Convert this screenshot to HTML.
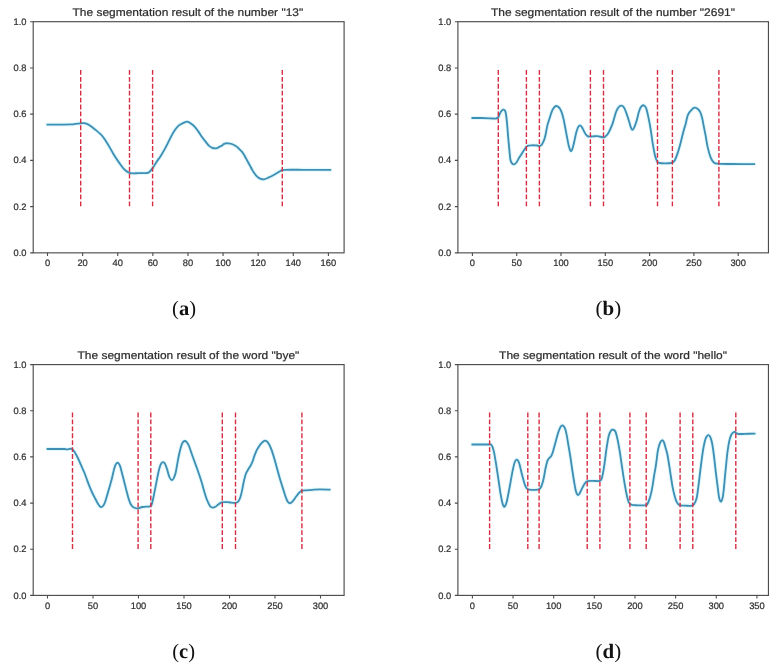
<!DOCTYPE html><html><head><meta charset="utf-8"><style>html,body{margin:0;padding:0;background:#fff;}svg{display:block;filter:blur(0.35px);}.t{font-family:"Liberation Sans",sans-serif;text-rendering:geometricPrecision;fill:#2e2e2e;stroke:#2e2e2e;stroke-width:0.22px;}.s{font-family:"Liberation Serif",serif;text-rendering:geometricPrecision;fill:#111;}</style></head><body><svg width="776" height="668" viewBox="0 0 776 668"><rect width="776" height="668" fill="#fff"/><path d="M47.50,124.60 C49.47,124.60 55.40,124.63 59.30,124.60 C63.20,124.57 68.57,124.45 70.90,124.40 C73.23,124.35 72.27,124.43 73.30,124.30 C74.33,124.17 75.95,123.77 77.10,123.60 C78.25,123.43 79.03,123.37 80.20,123.30 C81.37,123.23 82.80,123.03 84.10,123.20 C85.40,123.37 86.58,123.58 88.00,124.30 C89.42,125.02 91.18,126.45 92.60,127.50 C94.02,128.55 95.27,129.57 96.50,130.60 C97.73,131.63 99.00,132.75 100.00,133.70 C101.00,134.65 101.27,134.68 102.50,136.30 C103.73,137.92 105.58,140.47 107.40,143.40 C109.22,146.33 111.42,150.65 113.40,153.90 C115.38,157.15 117.57,160.40 119.30,162.90 C121.03,165.40 122.30,167.33 123.80,168.90 C125.30,170.47 126.80,171.55 128.30,172.30 C129.80,173.05 131.05,173.27 132.80,173.40 C134.55,173.53 136.60,173.16 138.80,173.10 C141.00,173.04 144.30,173.20 146.00,173.05 C147.70,172.90 147.88,173.02 149.00,172.20 C150.12,171.38 151.45,169.78 152.70,168.10 C153.95,166.42 155.12,164.22 156.50,162.10 C157.88,159.98 159.52,157.77 161.00,155.40 C162.48,153.03 163.92,150.65 165.40,147.90 C166.88,145.15 168.40,141.77 169.90,138.90 C171.40,136.03 172.90,132.95 174.40,130.70 C175.90,128.45 177.30,126.75 178.90,125.40 C180.50,124.05 182.60,123.22 184.00,122.60 C185.40,121.98 186.10,121.50 187.30,121.70 C188.50,121.90 189.95,122.95 191.20,123.80 C192.45,124.65 193.60,125.50 194.80,126.80 C196.00,128.10 197.20,129.90 198.40,131.60 C199.60,133.30 200.80,135.32 202.00,137.00 C203.20,138.68 204.42,140.22 205.60,141.70 C206.78,143.18 207.92,144.85 209.10,145.90 C210.28,146.95 211.50,147.60 212.70,148.00 C213.90,148.40 215.35,148.40 216.30,148.30 C217.25,148.20 217.78,147.70 218.40,147.40 C219.02,147.10 219.42,146.80 220.00,146.50 C220.58,146.20 221.27,146.00 221.90,145.60 C222.53,145.20 223.17,144.47 223.80,144.10 C224.43,143.73 224.98,143.53 225.70,143.40 C226.42,143.27 227.30,143.25 228.10,143.30 C228.90,143.35 229.70,143.50 230.50,143.70 C231.30,143.90 232.10,144.15 232.90,144.50 C233.70,144.85 234.50,145.30 235.30,145.80 C236.10,146.30 236.90,146.82 237.70,147.50 C238.50,148.18 239.37,149.17 240.10,149.90 C240.83,150.63 241.45,151.08 242.10,151.90 C242.75,152.72 243.35,153.72 244.00,154.80 C244.65,155.88 245.32,157.17 246.00,158.40 C246.68,159.63 247.42,160.95 248.10,162.20 C248.78,163.45 249.43,164.67 250.10,165.90 C250.77,167.13 251.42,168.43 252.10,169.60 C252.78,170.77 253.52,171.88 254.20,172.90 C254.88,173.92 255.53,174.92 256.20,175.70 C256.87,176.48 257.53,177.10 258.20,177.60 C258.87,178.10 259.30,178.40 260.20,178.70 C261.10,179.00 262.25,179.57 263.60,179.40 C264.95,179.23 266.62,178.43 268.30,177.70 C269.98,176.97 271.90,176.00 273.70,175.00 C275.50,174.00 277.75,172.48 279.10,171.70 C280.45,170.92 280.75,170.62 281.80,170.30 C282.85,169.98 281.80,169.88 285.40,169.80 C289.00,169.72 295.92,169.78 303.40,169.80 C310.88,169.82 325.82,169.88 330.30,169.90" fill="none" stroke="#d4f5fb" stroke-width="4" stroke-linejoin="round" stroke-linecap="round" opacity="0.7"/><path d="M47.50,124.60 C49.47,124.60 55.40,124.63 59.30,124.60 C63.20,124.57 68.57,124.45 70.90,124.40 C73.23,124.35 72.27,124.43 73.30,124.30 C74.33,124.17 75.95,123.77 77.10,123.60 C78.25,123.43 79.03,123.37 80.20,123.30 C81.37,123.23 82.80,123.03 84.10,123.20 C85.40,123.37 86.58,123.58 88.00,124.30 C89.42,125.02 91.18,126.45 92.60,127.50 C94.02,128.55 95.27,129.57 96.50,130.60 C97.73,131.63 99.00,132.75 100.00,133.70 C101.00,134.65 101.27,134.68 102.50,136.30 C103.73,137.92 105.58,140.47 107.40,143.40 C109.22,146.33 111.42,150.65 113.40,153.90 C115.38,157.15 117.57,160.40 119.30,162.90 C121.03,165.40 122.30,167.33 123.80,168.90 C125.30,170.47 126.80,171.55 128.30,172.30 C129.80,173.05 131.05,173.27 132.80,173.40 C134.55,173.53 136.60,173.16 138.80,173.10 C141.00,173.04 144.30,173.20 146.00,173.05 C147.70,172.90 147.88,173.02 149.00,172.20 C150.12,171.38 151.45,169.78 152.70,168.10 C153.95,166.42 155.12,164.22 156.50,162.10 C157.88,159.98 159.52,157.77 161.00,155.40 C162.48,153.03 163.92,150.65 165.40,147.90 C166.88,145.15 168.40,141.77 169.90,138.90 C171.40,136.03 172.90,132.95 174.40,130.70 C175.90,128.45 177.30,126.75 178.90,125.40 C180.50,124.05 182.60,123.22 184.00,122.60 C185.40,121.98 186.10,121.50 187.30,121.70 C188.50,121.90 189.95,122.95 191.20,123.80 C192.45,124.65 193.60,125.50 194.80,126.80 C196.00,128.10 197.20,129.90 198.40,131.60 C199.60,133.30 200.80,135.32 202.00,137.00 C203.20,138.68 204.42,140.22 205.60,141.70 C206.78,143.18 207.92,144.85 209.10,145.90 C210.28,146.95 211.50,147.60 212.70,148.00 C213.90,148.40 215.35,148.40 216.30,148.30 C217.25,148.20 217.78,147.70 218.40,147.40 C219.02,147.10 219.42,146.80 220.00,146.50 C220.58,146.20 221.27,146.00 221.90,145.60 C222.53,145.20 223.17,144.47 223.80,144.10 C224.43,143.73 224.98,143.53 225.70,143.40 C226.42,143.27 227.30,143.25 228.10,143.30 C228.90,143.35 229.70,143.50 230.50,143.70 C231.30,143.90 232.10,144.15 232.90,144.50 C233.70,144.85 234.50,145.30 235.30,145.80 C236.10,146.30 236.90,146.82 237.70,147.50 C238.50,148.18 239.37,149.17 240.10,149.90 C240.83,150.63 241.45,151.08 242.10,151.90 C242.75,152.72 243.35,153.72 244.00,154.80 C244.65,155.88 245.32,157.17 246.00,158.40 C246.68,159.63 247.42,160.95 248.10,162.20 C248.78,163.45 249.43,164.67 250.10,165.90 C250.77,167.13 251.42,168.43 252.10,169.60 C252.78,170.77 253.52,171.88 254.20,172.90 C254.88,173.92 255.53,174.92 256.20,175.70 C256.87,176.48 257.53,177.10 258.20,177.60 C258.87,178.10 259.30,178.40 260.20,178.70 C261.10,179.00 262.25,179.57 263.60,179.40 C264.95,179.23 266.62,178.43 268.30,177.70 C269.98,176.97 271.90,176.00 273.70,175.00 C275.50,174.00 277.75,172.48 279.10,171.70 C280.45,170.92 280.75,170.62 281.80,170.30 C282.85,169.98 281.80,169.88 285.40,169.80 C289.00,169.72 295.92,169.78 303.40,169.80 C310.88,169.82 325.82,169.88 330.30,169.90" fill="none" stroke="#3f8fb4" stroke-width="1.85" stroke-linejoin="round" stroke-linecap="square"/><g stroke="#d62d42" stroke-width="1.4" stroke-dasharray="4.83 2.09" fill="none"><line x1="80.7" y1="206.27" x2="80.7" y2="68.03"/><line x1="129.5" y1="206.27" x2="129.5" y2="68.03"/><line x1="152.6" y1="206.27" x2="152.6" y2="68.03"/><line x1="282.3" y1="206.27" x2="282.3" y2="68.03"/></g><rect x="33.2" y="21.7" width="310.9" height="231.15" fill="none" stroke="#4c4c4c" stroke-width="1.15"/><path d="M30.15,252.85H33.2M30.15,206.62H33.2M30.15,160.39H33.2M30.15,114.16H33.2M30.15,67.93H33.2M30.15,21.7H33.2M47.5,252.85V255.9M82.61,252.85V255.9M117.72,252.85V255.9M152.84,252.85V255.9M187.95,252.85V255.9M223.06,252.85V255.9M258.17,252.85V255.9M293.28,252.85V255.9M328.4,252.85V255.9" stroke="#4c4c4c" stroke-width="1.1" fill="none"/><g class="t" font-size="9.4"><text x="26.5" y="255.95" text-anchor="end" textLength="12.96" lengthAdjust="spacingAndGlyphs">0.0</text><text x="26.5" y="209.72" text-anchor="end" textLength="12.96" lengthAdjust="spacingAndGlyphs">0.2</text><text x="26.5" y="163.49" text-anchor="end" textLength="12.96" lengthAdjust="spacingAndGlyphs">0.4</text><text x="26.5" y="117.26" text-anchor="end" textLength="12.96" lengthAdjust="spacingAndGlyphs">0.6</text><text x="26.5" y="71.03" text-anchor="end" textLength="12.96" lengthAdjust="spacingAndGlyphs">0.8</text><text x="26.5" y="24.8" text-anchor="end" textLength="12.96" lengthAdjust="spacingAndGlyphs">1.0</text><text x="47.5" y="266.15" text-anchor="middle" textLength="5.19" lengthAdjust="spacingAndGlyphs">0</text><text x="82.61" y="266.15" text-anchor="middle" textLength="10.37" lengthAdjust="spacingAndGlyphs">20</text><text x="117.72" y="266.15" text-anchor="middle" textLength="10.37" lengthAdjust="spacingAndGlyphs">40</text><text x="152.84" y="266.15" text-anchor="middle" textLength="10.37" lengthAdjust="spacingAndGlyphs">60</text><text x="187.95" y="266.15" text-anchor="middle" textLength="10.37" lengthAdjust="spacingAndGlyphs">80</text><text x="223.06" y="266.15" text-anchor="middle" textLength="15.56" lengthAdjust="spacingAndGlyphs">100</text><text x="258.17" y="266.15" text-anchor="middle" textLength="15.56" lengthAdjust="spacingAndGlyphs">120</text><text x="293.28" y="266.15" text-anchor="middle" textLength="15.56" lengthAdjust="spacingAndGlyphs">140</text><text x="328.4" y="266.15" text-anchor="middle" textLength="15.56" lengthAdjust="spacingAndGlyphs">160</text></g><text class="t" x="187.85" y="16.1" font-size="11.0" text-anchor="middle" textLength="230.78" lengthAdjust="spacingAndGlyphs">The segmentation result of the number &quot;13&quot;</text><text class="s" x="184" y="315.05" font-size="20.5" text-anchor="middle">(<tspan font-weight="bold">a</tspan>)</text><path d="M472.40,118.00 C473.83,118.00 478.07,117.95 481.00,118.00 C483.93,118.05 487.63,118.20 490.00,118.30 C492.37,118.40 493.88,118.68 495.20,118.60 C496.52,118.52 497.20,118.45 497.90,117.80 C498.60,117.15 498.88,115.75 499.40,114.70 C499.92,113.65 500.38,112.35 501.00,111.50 C501.62,110.65 502.40,109.68 503.10,109.60 C503.80,109.52 504.68,109.98 505.20,111.00 C505.72,112.02 505.85,113.17 506.20,115.70 C506.55,118.23 506.95,122.37 507.30,126.20 C507.65,130.03 507.95,134.68 508.30,138.70 C508.65,142.72 509.05,146.80 509.40,150.30 C509.75,153.80 509.97,157.52 510.40,159.70 C510.83,161.88 511.38,162.62 512.00,163.40 C512.62,164.18 513.40,164.50 514.10,164.40 C514.80,164.30 515.33,163.93 516.20,162.80 C517.07,161.67 518.25,159.33 519.30,157.60 C520.35,155.87 521.45,154.02 522.50,152.40 C523.55,150.78 524.92,148.87 525.60,147.90 C526.28,146.93 526.17,146.98 526.60,146.60 C527.03,146.22 527.33,145.82 528.20,145.60 C529.07,145.38 530.68,145.35 531.80,145.30 C532.92,145.25 533.97,145.27 534.90,145.30 C535.83,145.33 536.63,145.37 537.40,145.50 C538.17,145.63 538.80,146.22 539.50,146.10 C540.20,145.98 541.00,145.45 541.60,144.80 C542.20,144.15 542.63,143.15 543.10,142.20 C543.57,141.25 543.98,140.38 544.40,139.10 C544.82,137.82 545.10,136.78 545.60,134.50 C546.10,132.22 546.80,127.90 547.40,125.40 C548.00,122.90 548.58,121.48 549.20,119.50 C549.82,117.52 550.47,115.25 551.10,113.50 C551.73,111.75 552.18,110.25 553.00,109.00 C553.82,107.75 555.00,106.25 556.00,106.00 C557.00,105.75 558.13,106.63 559.00,107.50 C559.87,108.37 560.48,109.45 561.20,111.20 C561.92,112.95 562.73,115.82 563.30,118.00 C563.87,120.18 564.15,122.02 564.60,124.30 C565.05,126.58 565.53,129.23 566.00,131.70 C566.47,134.17 566.93,136.73 567.40,139.10 C567.87,141.47 568.28,143.97 568.80,145.90 C569.32,147.83 569.97,150.03 570.50,150.70 C571.03,151.37 571.52,150.80 572.00,149.90 C572.48,149.00 572.93,147.10 573.40,145.30 C573.87,143.50 574.33,141.18 574.80,139.10 C575.27,137.02 575.68,134.70 576.20,132.80 C576.72,130.90 577.28,128.93 577.90,127.70 C578.52,126.47 579.23,125.50 579.90,125.40 C580.57,125.30 581.23,126.15 581.90,127.10 C582.57,128.05 583.23,129.87 583.90,131.10 C584.57,132.33 585.18,133.60 585.90,134.50 C586.62,135.40 587.03,136.18 588.20,136.50 C589.37,136.82 591.37,136.47 592.90,136.40 C594.43,136.33 595.62,135.93 597.40,136.10 C599.18,136.27 602.17,137.43 603.60,137.40 C605.03,137.37 605.20,136.65 606.00,135.90 C606.80,135.15 607.70,134.00 608.40,132.90 C609.10,131.80 609.60,130.60 610.20,129.30 C610.80,128.00 611.50,126.38 612.00,125.10 C612.50,123.82 612.80,122.88 613.20,121.60 C613.60,120.32 614.00,118.80 614.40,117.40 C614.80,116.00 615.10,114.60 615.60,113.20 C616.10,111.80 616.80,110.10 617.40,109.00 C618.00,107.90 618.57,107.15 619.20,106.60 C619.83,106.05 620.43,105.60 621.20,105.70 C621.97,105.80 622.97,106.05 623.80,107.20 C624.63,108.35 625.40,110.50 626.20,112.60 C627.00,114.70 627.82,117.32 628.60,119.80 C629.38,122.28 630.27,125.82 630.90,127.50 C631.53,129.18 631.80,130.00 632.40,129.90 C633.00,129.80 633.75,128.58 634.50,126.90 C635.25,125.22 636.20,122.18 636.90,119.80 C637.60,117.42 638.10,114.60 638.70,112.60 C639.30,110.60 639.85,109.00 640.50,107.80 C641.15,106.60 641.92,105.70 642.60,105.40 C643.28,105.10 643.98,105.47 644.60,106.00 C645.22,106.53 645.68,106.78 646.30,108.60 C646.92,110.42 647.58,113.52 648.30,116.90 C649.02,120.28 649.85,124.40 650.60,128.90 C651.35,133.40 652.05,139.40 652.80,143.90 C653.55,148.40 654.35,152.95 655.10,155.90 C655.85,158.85 656.65,160.43 657.30,161.60 C657.95,162.77 657.72,162.60 659.00,162.90 C660.28,163.20 662.88,163.40 665.00,163.40 C667.12,163.40 670.08,163.40 671.70,162.90 C673.32,162.40 673.70,162.07 674.70,160.40 C675.70,158.73 676.70,155.90 677.70,152.90 C678.70,149.90 679.70,146.15 680.70,142.40 C681.70,138.65 682.85,133.57 683.70,130.40 C684.55,127.23 685.20,125.67 685.80,123.40 C686.40,121.13 686.80,118.50 687.30,116.80 C687.80,115.10 688.20,114.22 688.80,113.20 C689.40,112.18 690.22,111.50 690.90,110.70 C691.58,109.90 692.23,108.92 692.90,108.40 C693.57,107.88 694.13,107.55 694.90,107.60 C695.67,107.65 696.65,108.02 697.50,108.70 C698.35,109.38 699.23,110.18 700.00,111.70 C700.77,113.22 701.50,115.50 702.10,117.80 C702.70,120.10 703.02,122.53 703.60,125.50 C704.18,128.47 704.93,132.03 705.60,135.60 C706.27,139.17 706.77,143.27 707.60,146.90 C708.43,150.53 709.60,154.85 710.60,157.40 C711.60,159.95 712.47,161.15 713.60,162.20 C714.73,163.25 714.52,163.40 717.40,163.70 C720.28,164.00 724.77,163.93 730.90,164.00 C737.03,164.07 750.32,164.08 754.20,164.10" fill="none" stroke="#d4f5fb" stroke-width="4" stroke-linejoin="round" stroke-linecap="round" opacity="0.7"/><path d="M472.40,118.00 C473.83,118.00 478.07,117.95 481.00,118.00 C483.93,118.05 487.63,118.20 490.00,118.30 C492.37,118.40 493.88,118.68 495.20,118.60 C496.52,118.52 497.20,118.45 497.90,117.80 C498.60,117.15 498.88,115.75 499.40,114.70 C499.92,113.65 500.38,112.35 501.00,111.50 C501.62,110.65 502.40,109.68 503.10,109.60 C503.80,109.52 504.68,109.98 505.20,111.00 C505.72,112.02 505.85,113.17 506.20,115.70 C506.55,118.23 506.95,122.37 507.30,126.20 C507.65,130.03 507.95,134.68 508.30,138.70 C508.65,142.72 509.05,146.80 509.40,150.30 C509.75,153.80 509.97,157.52 510.40,159.70 C510.83,161.88 511.38,162.62 512.00,163.40 C512.62,164.18 513.40,164.50 514.10,164.40 C514.80,164.30 515.33,163.93 516.20,162.80 C517.07,161.67 518.25,159.33 519.30,157.60 C520.35,155.87 521.45,154.02 522.50,152.40 C523.55,150.78 524.92,148.87 525.60,147.90 C526.28,146.93 526.17,146.98 526.60,146.60 C527.03,146.22 527.33,145.82 528.20,145.60 C529.07,145.38 530.68,145.35 531.80,145.30 C532.92,145.25 533.97,145.27 534.90,145.30 C535.83,145.33 536.63,145.37 537.40,145.50 C538.17,145.63 538.80,146.22 539.50,146.10 C540.20,145.98 541.00,145.45 541.60,144.80 C542.20,144.15 542.63,143.15 543.10,142.20 C543.57,141.25 543.98,140.38 544.40,139.10 C544.82,137.82 545.10,136.78 545.60,134.50 C546.10,132.22 546.80,127.90 547.40,125.40 C548.00,122.90 548.58,121.48 549.20,119.50 C549.82,117.52 550.47,115.25 551.10,113.50 C551.73,111.75 552.18,110.25 553.00,109.00 C553.82,107.75 555.00,106.25 556.00,106.00 C557.00,105.75 558.13,106.63 559.00,107.50 C559.87,108.37 560.48,109.45 561.20,111.20 C561.92,112.95 562.73,115.82 563.30,118.00 C563.87,120.18 564.15,122.02 564.60,124.30 C565.05,126.58 565.53,129.23 566.00,131.70 C566.47,134.17 566.93,136.73 567.40,139.10 C567.87,141.47 568.28,143.97 568.80,145.90 C569.32,147.83 569.97,150.03 570.50,150.70 C571.03,151.37 571.52,150.80 572.00,149.90 C572.48,149.00 572.93,147.10 573.40,145.30 C573.87,143.50 574.33,141.18 574.80,139.10 C575.27,137.02 575.68,134.70 576.20,132.80 C576.72,130.90 577.28,128.93 577.90,127.70 C578.52,126.47 579.23,125.50 579.90,125.40 C580.57,125.30 581.23,126.15 581.90,127.10 C582.57,128.05 583.23,129.87 583.90,131.10 C584.57,132.33 585.18,133.60 585.90,134.50 C586.62,135.40 587.03,136.18 588.20,136.50 C589.37,136.82 591.37,136.47 592.90,136.40 C594.43,136.33 595.62,135.93 597.40,136.10 C599.18,136.27 602.17,137.43 603.60,137.40 C605.03,137.37 605.20,136.65 606.00,135.90 C606.80,135.15 607.70,134.00 608.40,132.90 C609.10,131.80 609.60,130.60 610.20,129.30 C610.80,128.00 611.50,126.38 612.00,125.10 C612.50,123.82 612.80,122.88 613.20,121.60 C613.60,120.32 614.00,118.80 614.40,117.40 C614.80,116.00 615.10,114.60 615.60,113.20 C616.10,111.80 616.80,110.10 617.40,109.00 C618.00,107.90 618.57,107.15 619.20,106.60 C619.83,106.05 620.43,105.60 621.20,105.70 C621.97,105.80 622.97,106.05 623.80,107.20 C624.63,108.35 625.40,110.50 626.20,112.60 C627.00,114.70 627.82,117.32 628.60,119.80 C629.38,122.28 630.27,125.82 630.90,127.50 C631.53,129.18 631.80,130.00 632.40,129.90 C633.00,129.80 633.75,128.58 634.50,126.90 C635.25,125.22 636.20,122.18 636.90,119.80 C637.60,117.42 638.10,114.60 638.70,112.60 C639.30,110.60 639.85,109.00 640.50,107.80 C641.15,106.60 641.92,105.70 642.60,105.40 C643.28,105.10 643.98,105.47 644.60,106.00 C645.22,106.53 645.68,106.78 646.30,108.60 C646.92,110.42 647.58,113.52 648.30,116.90 C649.02,120.28 649.85,124.40 650.60,128.90 C651.35,133.40 652.05,139.40 652.80,143.90 C653.55,148.40 654.35,152.95 655.10,155.90 C655.85,158.85 656.65,160.43 657.30,161.60 C657.95,162.77 657.72,162.60 659.00,162.90 C660.28,163.20 662.88,163.40 665.00,163.40 C667.12,163.40 670.08,163.40 671.70,162.90 C673.32,162.40 673.70,162.07 674.70,160.40 C675.70,158.73 676.70,155.90 677.70,152.90 C678.70,149.90 679.70,146.15 680.70,142.40 C681.70,138.65 682.85,133.57 683.70,130.40 C684.55,127.23 685.20,125.67 685.80,123.40 C686.40,121.13 686.80,118.50 687.30,116.80 C687.80,115.10 688.20,114.22 688.80,113.20 C689.40,112.18 690.22,111.50 690.90,110.70 C691.58,109.90 692.23,108.92 692.90,108.40 C693.57,107.88 694.13,107.55 694.90,107.60 C695.67,107.65 696.65,108.02 697.50,108.70 C698.35,109.38 699.23,110.18 700.00,111.70 C700.77,113.22 701.50,115.50 702.10,117.80 C702.70,120.10 703.02,122.53 703.60,125.50 C704.18,128.47 704.93,132.03 705.60,135.60 C706.27,139.17 706.77,143.27 707.60,146.90 C708.43,150.53 709.60,154.85 710.60,157.40 C711.60,159.95 712.47,161.15 713.60,162.20 C714.73,163.25 714.52,163.40 717.40,163.70 C720.28,164.00 724.77,163.93 730.90,164.00 C737.03,164.07 750.32,164.08 754.20,164.10" fill="none" stroke="#3f8fb4" stroke-width="1.85" stroke-linejoin="round" stroke-linecap="square"/><g stroke="#d62d42" stroke-width="1.4" stroke-dasharray="4.83 2.09" fill="none"><line x1="498.3" y1="206.27" x2="498.3" y2="68.03"/><line x1="526.4" y1="206.27" x2="526.4" y2="68.03"/><line x1="539.4" y1="206.27" x2="539.4" y2="68.03"/><line x1="590.4" y1="206.27" x2="590.4" y2="68.03"/><line x1="603.5" y1="206.27" x2="603.5" y2="68.03"/><line x1="657.5" y1="206.27" x2="657.5" y2="68.03"/><line x1="672.4" y1="206.27" x2="672.4" y2="68.03"/><line x1="718.9" y1="206.27" x2="718.9" y2="68.03"/></g><rect x="457.9" y="21.7" width="310.55" height="231.15" fill="none" stroke="#4c4c4c" stroke-width="1.15"/><path d="M454.85,252.85H457.9M454.85,206.62H457.9M454.85,160.39H457.9M454.85,114.16H457.9M454.85,67.93H457.9M454.85,21.7H457.9M472.4,252.85V255.9M516.7,252.85V255.9M561,252.85V255.9M605.3,252.85V255.9M649.6,252.85V255.9M693.9,252.85V255.9M738.2,252.85V255.9" stroke="#4c4c4c" stroke-width="1.1" fill="none"/><g class="t" font-size="9.4"><text x="451.2" y="255.95" text-anchor="end" textLength="12.96" lengthAdjust="spacingAndGlyphs">0.0</text><text x="451.2" y="209.72" text-anchor="end" textLength="12.96" lengthAdjust="spacingAndGlyphs">0.2</text><text x="451.2" y="163.49" text-anchor="end" textLength="12.96" lengthAdjust="spacingAndGlyphs">0.4</text><text x="451.2" y="117.26" text-anchor="end" textLength="12.96" lengthAdjust="spacingAndGlyphs">0.6</text><text x="451.2" y="71.03" text-anchor="end" textLength="12.96" lengthAdjust="spacingAndGlyphs">0.8</text><text x="451.2" y="24.8" text-anchor="end" textLength="12.96" lengthAdjust="spacingAndGlyphs">1.0</text><text x="472.4" y="266.15" text-anchor="middle" textLength="5.19" lengthAdjust="spacingAndGlyphs">0</text><text x="516.7" y="266.15" text-anchor="middle" textLength="10.37" lengthAdjust="spacingAndGlyphs">50</text><text x="561" y="266.15" text-anchor="middle" textLength="15.56" lengthAdjust="spacingAndGlyphs">100</text><text x="605.3" y="266.15" text-anchor="middle" textLength="15.56" lengthAdjust="spacingAndGlyphs">150</text><text x="649.6" y="266.15" text-anchor="middle" textLength="15.56" lengthAdjust="spacingAndGlyphs">200</text><text x="693.9" y="266.15" text-anchor="middle" textLength="15.56" lengthAdjust="spacingAndGlyphs">250</text><text x="738.2" y="266.15" text-anchor="middle" textLength="15.56" lengthAdjust="spacingAndGlyphs">300</text></g><text class="t" x="612.95" y="16.1" font-size="11.0" text-anchor="middle" textLength="243.99" lengthAdjust="spacingAndGlyphs">The segmentation result of the number &quot;2691&quot;</text><text class="s" x="608.4" y="315.05" font-size="20.5" text-anchor="middle" textLength="25.6" lengthAdjust="spacingAndGlyphs">(<tspan font-weight="bold">b</tspan>)</text><path d="M47.50,449.00 C49.25,449.00 55.13,449.00 58.00,449.00 C60.87,449.00 63.23,448.93 64.70,449.00 C66.17,449.07 66.08,449.38 66.80,449.40 C67.52,449.42 68.32,449.22 69.00,449.10 C69.68,448.98 70.32,448.63 70.90,448.70 C71.48,448.77 71.88,448.95 72.50,449.50 C73.12,450.05 73.90,450.97 74.60,452.00 C75.30,453.03 75.93,454.23 76.70,455.70 C77.47,457.17 78.37,458.97 79.20,460.80 C80.03,462.63 80.85,464.75 81.70,466.70 C82.55,468.65 83.45,470.42 84.30,472.50 C85.15,474.58 85.97,476.97 86.80,479.20 C87.63,481.43 88.45,483.77 89.30,485.90 C90.15,488.03 91.15,490.35 91.90,492.00 C92.65,493.65 93.17,494.55 93.80,495.80 C94.43,497.05 95.08,498.30 95.70,499.50 C96.32,500.70 96.88,501.95 97.50,503.00 C98.12,504.05 98.77,505.12 99.40,505.80 C100.03,506.48 100.67,507.10 101.30,507.10 C101.93,507.10 102.57,506.65 103.20,505.80 C103.83,504.95 104.47,503.67 105.10,502.00 C105.73,500.33 106.38,497.88 107.00,495.80 C107.62,493.72 108.23,491.47 108.80,489.50 C109.37,487.53 109.88,485.83 110.40,484.00 C110.92,482.17 111.40,480.52 111.90,478.50 C112.40,476.48 112.88,473.97 113.40,471.90 C113.92,469.83 114.45,467.57 115.00,466.10 C115.55,464.63 116.13,463.60 116.70,463.10 C117.27,462.60 117.83,462.60 118.40,463.10 C118.97,463.60 119.55,464.63 120.10,466.10 C120.65,467.57 121.15,469.82 121.70,471.90 C122.25,473.98 122.83,476.37 123.40,478.60 C123.97,480.83 124.53,483.07 125.10,485.30 C125.67,487.53 126.25,489.90 126.80,492.00 C127.35,494.10 127.85,496.08 128.40,497.90 C128.95,499.72 129.47,501.50 130.10,502.90 C130.73,504.30 131.37,505.45 132.20,506.30 C133.03,507.15 134.13,507.65 135.10,508.00 C136.07,508.35 136.77,508.57 138.00,508.40 C139.23,508.23 140.50,507.35 142.50,507.00 C144.50,506.65 148.47,506.72 150.00,506.30 C151.53,505.88 151.15,505.88 151.70,504.50 C152.25,503.12 152.77,500.43 153.30,498.00 C153.83,495.57 154.37,492.58 154.90,489.90 C155.43,487.22 155.97,484.58 156.50,481.90 C157.03,479.22 157.57,476.23 158.10,473.80 C158.63,471.37 159.15,469.05 159.70,467.30 C160.25,465.55 160.85,464.17 161.40,463.30 C161.95,462.43 162.40,462.03 163.00,462.10 C163.60,462.17 164.33,462.57 165.00,463.70 C165.67,464.83 166.27,466.68 167.00,468.90 C167.73,471.12 168.58,475.12 169.40,477.00 C170.22,478.88 171.15,480.07 171.90,480.20 C172.65,480.33 173.27,479.08 173.90,477.80 C174.53,476.52 175.13,474.85 175.70,472.50 C176.27,470.15 176.75,466.65 177.30,463.70 C177.85,460.75 178.45,457.38 179.00,454.80 C179.55,452.22 180.05,450.13 180.60,448.20 C181.15,446.27 181.65,444.40 182.30,443.20 C182.95,442.00 183.77,441.18 184.50,441.00 C185.23,440.82 185.95,441.27 186.70,442.10 C187.45,442.93 188.17,444.07 189.00,446.00 C189.83,447.93 190.78,451.12 191.70,453.70 C192.62,456.28 193.57,458.92 194.50,461.50 C195.43,464.08 196.38,466.62 197.30,469.20 C198.22,471.78 199.15,474.40 200.00,477.00 C200.85,479.60 201.72,482.47 202.40,484.80 C203.08,487.13 203.48,488.88 204.10,491.00 C204.72,493.12 205.42,495.55 206.10,497.50 C206.78,499.45 207.52,501.23 208.20,502.70 C208.88,504.17 209.43,505.48 210.20,506.30 C210.97,507.12 211.93,507.52 212.80,507.60 C213.67,507.68 214.53,507.28 215.40,506.80 C216.27,506.32 217.13,505.35 218.00,504.70 C218.87,504.05 219.67,503.32 220.60,502.90 C221.53,502.48 222.40,502.32 223.60,502.20 C224.80,502.08 226.42,502.12 227.80,502.20 C229.18,502.28 230.62,502.58 231.90,502.70 C233.18,502.82 234.47,503.08 235.50,502.90 C236.53,502.72 237.35,502.37 238.10,501.60 C238.85,500.83 239.38,499.97 240.00,498.30 C240.62,496.63 241.18,494.32 241.80,491.60 C242.42,488.88 243.05,484.88 243.70,482.00 C244.35,479.12 245.05,476.22 245.70,474.30 C246.35,472.38 246.80,471.93 247.60,470.50 C248.40,469.07 249.70,467.13 250.50,465.70 C251.30,464.27 251.77,463.50 252.40,461.90 C253.03,460.30 253.67,457.87 254.30,456.10 C254.93,454.33 255.48,452.82 256.20,451.30 C256.92,449.78 257.72,448.35 258.60,447.00 C259.48,445.65 260.55,444.23 261.50,443.20 C262.45,442.17 263.43,441.12 264.30,440.80 C265.17,440.48 265.88,440.68 266.70,441.30 C267.52,441.92 268.33,442.90 269.20,444.50 C270.07,446.10 271.00,448.38 271.90,450.90 C272.80,453.42 273.70,456.53 274.60,459.60 C275.50,462.67 276.40,466.07 277.30,469.30 C278.20,472.53 279.10,475.95 280.00,479.00 C280.90,482.05 281.80,484.73 282.70,487.60 C283.60,490.47 284.58,493.87 285.40,496.20 C286.22,498.53 286.88,500.43 287.60,501.60 C288.32,502.77 288.90,503.20 289.70,503.20 C290.50,503.20 291.42,502.58 292.40,501.60 C293.38,500.62 294.52,498.73 295.60,497.30 C296.68,495.87 297.90,494.08 298.90,493.00 C299.90,491.92 300.42,491.25 301.60,490.80 C302.78,490.35 304.22,490.47 306.00,490.30 C307.78,490.13 310.00,489.95 312.30,489.80 C314.60,489.65 316.92,489.42 319.80,489.40 C322.68,489.38 327.97,489.65 329.60,489.70" fill="none" stroke="#d4f5fb" stroke-width="4" stroke-linejoin="round" stroke-linecap="round" opacity="0.7"/><path d="M47.50,449.00 C49.25,449.00 55.13,449.00 58.00,449.00 C60.87,449.00 63.23,448.93 64.70,449.00 C66.17,449.07 66.08,449.38 66.80,449.40 C67.52,449.42 68.32,449.22 69.00,449.10 C69.68,448.98 70.32,448.63 70.90,448.70 C71.48,448.77 71.88,448.95 72.50,449.50 C73.12,450.05 73.90,450.97 74.60,452.00 C75.30,453.03 75.93,454.23 76.70,455.70 C77.47,457.17 78.37,458.97 79.20,460.80 C80.03,462.63 80.85,464.75 81.70,466.70 C82.55,468.65 83.45,470.42 84.30,472.50 C85.15,474.58 85.97,476.97 86.80,479.20 C87.63,481.43 88.45,483.77 89.30,485.90 C90.15,488.03 91.15,490.35 91.90,492.00 C92.65,493.65 93.17,494.55 93.80,495.80 C94.43,497.05 95.08,498.30 95.70,499.50 C96.32,500.70 96.88,501.95 97.50,503.00 C98.12,504.05 98.77,505.12 99.40,505.80 C100.03,506.48 100.67,507.10 101.30,507.10 C101.93,507.10 102.57,506.65 103.20,505.80 C103.83,504.95 104.47,503.67 105.10,502.00 C105.73,500.33 106.38,497.88 107.00,495.80 C107.62,493.72 108.23,491.47 108.80,489.50 C109.37,487.53 109.88,485.83 110.40,484.00 C110.92,482.17 111.40,480.52 111.90,478.50 C112.40,476.48 112.88,473.97 113.40,471.90 C113.92,469.83 114.45,467.57 115.00,466.10 C115.55,464.63 116.13,463.60 116.70,463.10 C117.27,462.60 117.83,462.60 118.40,463.10 C118.97,463.60 119.55,464.63 120.10,466.10 C120.65,467.57 121.15,469.82 121.70,471.90 C122.25,473.98 122.83,476.37 123.40,478.60 C123.97,480.83 124.53,483.07 125.10,485.30 C125.67,487.53 126.25,489.90 126.80,492.00 C127.35,494.10 127.85,496.08 128.40,497.90 C128.95,499.72 129.47,501.50 130.10,502.90 C130.73,504.30 131.37,505.45 132.20,506.30 C133.03,507.15 134.13,507.65 135.10,508.00 C136.07,508.35 136.77,508.57 138.00,508.40 C139.23,508.23 140.50,507.35 142.50,507.00 C144.50,506.65 148.47,506.72 150.00,506.30 C151.53,505.88 151.15,505.88 151.70,504.50 C152.25,503.12 152.77,500.43 153.30,498.00 C153.83,495.57 154.37,492.58 154.90,489.90 C155.43,487.22 155.97,484.58 156.50,481.90 C157.03,479.22 157.57,476.23 158.10,473.80 C158.63,471.37 159.15,469.05 159.70,467.30 C160.25,465.55 160.85,464.17 161.40,463.30 C161.95,462.43 162.40,462.03 163.00,462.10 C163.60,462.17 164.33,462.57 165.00,463.70 C165.67,464.83 166.27,466.68 167.00,468.90 C167.73,471.12 168.58,475.12 169.40,477.00 C170.22,478.88 171.15,480.07 171.90,480.20 C172.65,480.33 173.27,479.08 173.90,477.80 C174.53,476.52 175.13,474.85 175.70,472.50 C176.27,470.15 176.75,466.65 177.30,463.70 C177.85,460.75 178.45,457.38 179.00,454.80 C179.55,452.22 180.05,450.13 180.60,448.20 C181.15,446.27 181.65,444.40 182.30,443.20 C182.95,442.00 183.77,441.18 184.50,441.00 C185.23,440.82 185.95,441.27 186.70,442.10 C187.45,442.93 188.17,444.07 189.00,446.00 C189.83,447.93 190.78,451.12 191.70,453.70 C192.62,456.28 193.57,458.92 194.50,461.50 C195.43,464.08 196.38,466.62 197.30,469.20 C198.22,471.78 199.15,474.40 200.00,477.00 C200.85,479.60 201.72,482.47 202.40,484.80 C203.08,487.13 203.48,488.88 204.10,491.00 C204.72,493.12 205.42,495.55 206.10,497.50 C206.78,499.45 207.52,501.23 208.20,502.70 C208.88,504.17 209.43,505.48 210.20,506.30 C210.97,507.12 211.93,507.52 212.80,507.60 C213.67,507.68 214.53,507.28 215.40,506.80 C216.27,506.32 217.13,505.35 218.00,504.70 C218.87,504.05 219.67,503.32 220.60,502.90 C221.53,502.48 222.40,502.32 223.60,502.20 C224.80,502.08 226.42,502.12 227.80,502.20 C229.18,502.28 230.62,502.58 231.90,502.70 C233.18,502.82 234.47,503.08 235.50,502.90 C236.53,502.72 237.35,502.37 238.10,501.60 C238.85,500.83 239.38,499.97 240.00,498.30 C240.62,496.63 241.18,494.32 241.80,491.60 C242.42,488.88 243.05,484.88 243.70,482.00 C244.35,479.12 245.05,476.22 245.70,474.30 C246.35,472.38 246.80,471.93 247.60,470.50 C248.40,469.07 249.70,467.13 250.50,465.70 C251.30,464.27 251.77,463.50 252.40,461.90 C253.03,460.30 253.67,457.87 254.30,456.10 C254.93,454.33 255.48,452.82 256.20,451.30 C256.92,449.78 257.72,448.35 258.60,447.00 C259.48,445.65 260.55,444.23 261.50,443.20 C262.45,442.17 263.43,441.12 264.30,440.80 C265.17,440.48 265.88,440.68 266.70,441.30 C267.52,441.92 268.33,442.90 269.20,444.50 C270.07,446.10 271.00,448.38 271.90,450.90 C272.80,453.42 273.70,456.53 274.60,459.60 C275.50,462.67 276.40,466.07 277.30,469.30 C278.20,472.53 279.10,475.95 280.00,479.00 C280.90,482.05 281.80,484.73 282.70,487.60 C283.60,490.47 284.58,493.87 285.40,496.20 C286.22,498.53 286.88,500.43 287.60,501.60 C288.32,502.77 288.90,503.20 289.70,503.20 C290.50,503.20 291.42,502.58 292.40,501.60 C293.38,500.62 294.52,498.73 295.60,497.30 C296.68,495.87 297.90,494.08 298.90,493.00 C299.90,491.92 300.42,491.25 301.60,490.80 C302.78,490.35 304.22,490.47 306.00,490.30 C307.78,490.13 310.00,489.95 312.30,489.80 C314.60,489.65 316.92,489.42 319.80,489.40 C322.68,489.38 327.97,489.65 329.60,489.70" fill="none" stroke="#3f8fb4" stroke-width="1.85" stroke-linejoin="round" stroke-linecap="square"/><g stroke="#d62d42" stroke-width="1.4" stroke-dasharray="4.83 2.09" fill="none"><line x1="72.5" y1="548.89" x2="72.5" y2="410.86"/><line x1="138.1" y1="548.89" x2="138.1" y2="410.86"/><line x1="150.8" y1="548.89" x2="150.8" y2="410.86"/><line x1="222.3" y1="548.89" x2="222.3" y2="410.86"/><line x1="235.5" y1="548.89" x2="235.5" y2="410.86"/><line x1="301.9" y1="548.89" x2="301.9" y2="410.86"/></g><rect x="33.2" y="364.6" width="310.9" height="230.8" fill="none" stroke="#4c4c4c" stroke-width="1.15"/><path d="M30.15,595.4H33.2M30.15,549.24H33.2M30.15,503.08H33.2M30.15,456.92H33.2M30.15,410.76H33.2M30.15,364.6H33.2M47.5,595.4V598.45M93,595.4V598.45M138.5,595.4V598.45M184,595.4V598.45M229.5,595.4V598.45M275,595.4V598.45M320.5,595.4V598.45" stroke="#4c4c4c" stroke-width="1.1" fill="none"/><g class="t" font-size="9.4"><text x="26.5" y="598.5" text-anchor="end" textLength="12.96" lengthAdjust="spacingAndGlyphs">0.0</text><text x="26.5" y="552.34" text-anchor="end" textLength="12.96" lengthAdjust="spacingAndGlyphs">0.2</text><text x="26.5" y="506.18" text-anchor="end" textLength="12.96" lengthAdjust="spacingAndGlyphs">0.4</text><text x="26.5" y="460.02" text-anchor="end" textLength="12.96" lengthAdjust="spacingAndGlyphs">0.6</text><text x="26.5" y="413.86" text-anchor="end" textLength="12.96" lengthAdjust="spacingAndGlyphs">0.8</text><text x="26.5" y="367.7" text-anchor="end" textLength="12.96" lengthAdjust="spacingAndGlyphs">1.0</text><text x="47.5" y="608.7" text-anchor="middle" textLength="5.19" lengthAdjust="spacingAndGlyphs">0</text><text x="93" y="608.7" text-anchor="middle" textLength="10.37" lengthAdjust="spacingAndGlyphs">50</text><text x="138.5" y="608.7" text-anchor="middle" textLength="15.56" lengthAdjust="spacingAndGlyphs">100</text><text x="184" y="608.7" text-anchor="middle" textLength="15.56" lengthAdjust="spacingAndGlyphs">150</text><text x="229.5" y="608.7" text-anchor="middle" textLength="15.56" lengthAdjust="spacingAndGlyphs">200</text><text x="275" y="608.7" text-anchor="middle" textLength="15.56" lengthAdjust="spacingAndGlyphs">250</text><text x="320.5" y="608.7" text-anchor="middle" textLength="15.56" lengthAdjust="spacingAndGlyphs">300</text></g><text class="t" x="188.45" y="359" font-size="11.0" text-anchor="middle" textLength="221.87" lengthAdjust="spacingAndGlyphs">The segmentation result of the word &quot;bye&quot;</text><text class="s" x="183.6" y="657.6" font-size="20.5" text-anchor="middle">(<tspan font-weight="bold">c</tspan>)</text><path d="M472.40,444.50 C473.83,444.50 478.32,444.50 481.00,444.50 C483.68,444.50 486.77,444.43 488.50,444.50 C490.23,444.57 490.53,443.83 491.40,444.90 C492.27,445.97 492.95,447.90 493.70,450.90 C494.45,453.90 495.15,458.40 495.90,462.90 C496.65,467.40 497.45,472.92 498.20,477.90 C498.95,482.88 499.65,488.43 500.40,492.80 C501.15,497.17 502.00,501.80 502.70,504.10 C503.40,506.40 503.93,506.98 504.60,506.60 C505.27,506.22 505.90,504.83 506.70,501.80 C507.50,498.77 508.45,493.38 509.40,488.40 C510.35,483.42 511.52,476.27 512.40,471.90 C513.28,467.53 513.95,464.25 514.70,462.20 C515.45,460.15 516.17,459.48 516.90,459.60 C517.63,459.72 518.23,460.35 519.10,462.90 C519.97,465.45 521.10,471.15 522.10,474.90 C523.10,478.65 524.22,483.03 525.10,485.40 C525.98,487.77 526.27,488.35 527.40,489.10 C528.53,489.85 530.15,489.82 531.90,489.90 C533.65,489.98 536.53,489.85 537.90,489.60 C539.27,489.35 539.50,489.02 540.10,488.40 C540.70,487.78 541.02,487.10 541.50,485.90 C541.98,484.70 542.57,482.82 543.00,481.20 C543.43,479.58 543.75,478.00 544.10,476.20 C544.45,474.40 544.75,472.20 545.10,470.40 C545.45,468.60 545.78,467.07 546.20,465.40 C546.62,463.73 547.07,461.65 547.60,460.40 C548.13,459.15 548.80,458.62 549.40,457.90 C550.00,457.18 550.65,457.00 551.20,456.10 C551.75,455.20 552.22,453.95 552.70,452.50 C553.18,451.05 553.55,449.42 554.10,447.40 C554.65,445.38 555.28,442.97 556.00,440.40 C556.72,437.83 557.60,434.30 558.40,432.00 C559.20,429.70 560.10,427.70 560.80,426.60 C561.50,425.50 561.90,425.10 562.60,425.40 C563.30,425.70 564.30,426.70 565.00,428.40 C565.70,430.10 566.20,432.60 566.80,435.60 C567.40,438.60 568.00,442.83 568.60,446.40 C569.20,449.97 569.80,453.15 570.40,457.00 C571.00,460.85 571.60,465.50 572.20,469.50 C572.80,473.50 573.40,477.47 574.00,481.00 C574.60,484.53 575.20,488.38 575.80,490.70 C576.40,493.02 577.00,494.40 577.60,494.90 C578.20,495.40 578.70,494.70 579.40,493.70 C580.10,492.70 580.90,490.60 581.80,488.90 C582.70,487.20 583.87,484.78 584.80,483.50 C585.73,482.22 586.05,481.63 587.40,481.20 C588.75,480.77 590.85,480.95 592.90,480.90 C594.95,480.85 598.20,481.40 599.70,480.90 C601.20,480.40 601.15,480.40 601.90,477.90 C602.65,475.40 603.45,470.65 604.20,465.90 C604.95,461.15 605.65,454.38 606.40,449.40 C607.15,444.42 607.95,439.12 608.70,436.00 C609.45,432.88 610.17,431.75 610.90,430.70 C611.63,429.65 612.35,429.57 613.10,429.70 C613.85,429.83 614.65,429.83 615.40,431.50 C616.15,433.17 616.85,436.22 617.60,439.70 C618.35,443.18 619.15,447.78 619.90,452.40 C620.65,457.02 621.35,462.40 622.10,467.40 C622.85,472.40 623.65,477.92 624.40,482.40 C625.15,486.88 625.85,490.93 626.60,494.30 C627.35,497.67 628.02,500.85 628.90,502.60 C629.78,504.35 630.42,504.35 631.90,504.80 C633.38,505.25 635.57,505.22 637.80,505.30 C640.03,505.38 643.73,505.45 645.30,505.30 C646.87,505.15 646.52,505.38 647.20,504.40 C647.88,503.42 648.73,501.32 649.40,499.40 C650.07,497.48 650.67,495.18 651.20,492.90 C651.73,490.62 652.13,488.45 652.60,485.70 C653.07,482.95 653.52,479.38 654.00,476.40 C654.48,473.42 655.08,470.37 655.50,467.80 C655.92,465.23 656.13,463.70 656.50,461.00 C656.87,458.30 657.25,454.22 657.70,451.60 C658.15,448.98 658.73,446.90 659.20,445.30 C659.67,443.70 660.02,442.83 660.50,442.00 C660.98,441.17 661.55,440.33 662.10,440.30 C662.65,440.27 663.25,440.65 663.80,441.80 C664.35,442.95 664.82,445.17 665.40,447.20 C665.98,449.23 666.78,451.70 667.30,454.00 C667.82,456.30 668.08,458.47 668.50,461.00 C668.92,463.53 669.35,466.28 669.80,469.20 C670.25,472.12 670.73,475.50 671.20,478.50 C671.67,481.50 672.07,484.43 672.60,487.20 C673.13,489.97 673.80,492.83 674.40,495.10 C675.00,497.37 675.53,499.25 676.20,500.80 C676.87,502.35 677.68,503.63 678.40,504.40 C679.12,505.17 679.42,505.20 680.50,505.40 C681.58,505.60 683.17,505.52 684.90,505.60 C686.63,505.68 689.62,506.00 690.90,505.90 C692.18,505.80 692.03,505.33 692.60,505.00 C693.17,504.67 693.63,505.02 694.30,503.90 C694.97,502.78 695.93,501.13 696.60,498.30 C697.27,495.47 697.73,491.08 698.30,486.90 C698.87,482.72 699.43,477.75 700.00,473.20 C700.57,468.65 701.13,463.77 701.70,459.60 C702.27,455.43 702.83,451.43 703.40,448.20 C703.97,444.97 704.53,442.18 705.10,440.20 C705.67,438.22 706.23,437.15 706.80,436.30 C707.37,435.45 707.93,435.02 708.50,435.10 C709.07,435.18 709.63,435.60 710.20,436.80 C710.77,438.00 711.40,440.10 711.90,442.30 C712.40,444.50 712.78,447.12 713.20,450.00 C713.62,452.88 714.00,456.20 714.40,459.60 C714.80,463.00 715.20,467.00 715.60,470.40 C716.00,473.80 716.40,476.80 716.80,480.00 C717.20,483.20 717.60,486.60 718.00,489.60 C718.40,492.60 718.70,496.00 719.20,498.00 C719.70,500.00 720.40,501.80 721.00,501.60 C721.60,501.40 722.30,499.20 722.80,496.80 C723.30,494.40 723.60,491.00 724.00,487.20 C724.40,483.40 724.80,478.20 725.20,474.00 C725.60,469.80 726.00,465.80 726.40,462.00 C726.80,458.20 727.10,454.80 727.60,451.20 C728.10,447.60 728.80,443.10 729.40,440.40 C730.00,437.70 730.60,436.30 731.20,435.00 C731.80,433.70 732.40,433.10 733.00,432.60 C733.60,432.10 734.20,431.88 734.80,432.00 C735.40,432.12 735.80,432.97 736.60,433.30 C737.40,433.63 738.23,433.90 739.60,434.00 C740.97,434.10 742.32,433.97 744.80,433.90 C747.28,433.83 752.88,433.65 754.50,433.60" fill="none" stroke="#d4f5fb" stroke-width="4" stroke-linejoin="round" stroke-linecap="round" opacity="0.7"/><path d="M472.40,444.50 C473.83,444.50 478.32,444.50 481.00,444.50 C483.68,444.50 486.77,444.43 488.50,444.50 C490.23,444.57 490.53,443.83 491.40,444.90 C492.27,445.97 492.95,447.90 493.70,450.90 C494.45,453.90 495.15,458.40 495.90,462.90 C496.65,467.40 497.45,472.92 498.20,477.90 C498.95,482.88 499.65,488.43 500.40,492.80 C501.15,497.17 502.00,501.80 502.70,504.10 C503.40,506.40 503.93,506.98 504.60,506.60 C505.27,506.22 505.90,504.83 506.70,501.80 C507.50,498.77 508.45,493.38 509.40,488.40 C510.35,483.42 511.52,476.27 512.40,471.90 C513.28,467.53 513.95,464.25 514.70,462.20 C515.45,460.15 516.17,459.48 516.90,459.60 C517.63,459.72 518.23,460.35 519.10,462.90 C519.97,465.45 521.10,471.15 522.10,474.90 C523.10,478.65 524.22,483.03 525.10,485.40 C525.98,487.77 526.27,488.35 527.40,489.10 C528.53,489.85 530.15,489.82 531.90,489.90 C533.65,489.98 536.53,489.85 537.90,489.60 C539.27,489.35 539.50,489.02 540.10,488.40 C540.70,487.78 541.02,487.10 541.50,485.90 C541.98,484.70 542.57,482.82 543.00,481.20 C543.43,479.58 543.75,478.00 544.10,476.20 C544.45,474.40 544.75,472.20 545.10,470.40 C545.45,468.60 545.78,467.07 546.20,465.40 C546.62,463.73 547.07,461.65 547.60,460.40 C548.13,459.15 548.80,458.62 549.40,457.90 C550.00,457.18 550.65,457.00 551.20,456.10 C551.75,455.20 552.22,453.95 552.70,452.50 C553.18,451.05 553.55,449.42 554.10,447.40 C554.65,445.38 555.28,442.97 556.00,440.40 C556.72,437.83 557.60,434.30 558.40,432.00 C559.20,429.70 560.10,427.70 560.80,426.60 C561.50,425.50 561.90,425.10 562.60,425.40 C563.30,425.70 564.30,426.70 565.00,428.40 C565.70,430.10 566.20,432.60 566.80,435.60 C567.40,438.60 568.00,442.83 568.60,446.40 C569.20,449.97 569.80,453.15 570.40,457.00 C571.00,460.85 571.60,465.50 572.20,469.50 C572.80,473.50 573.40,477.47 574.00,481.00 C574.60,484.53 575.20,488.38 575.80,490.70 C576.40,493.02 577.00,494.40 577.60,494.90 C578.20,495.40 578.70,494.70 579.40,493.70 C580.10,492.70 580.90,490.60 581.80,488.90 C582.70,487.20 583.87,484.78 584.80,483.50 C585.73,482.22 586.05,481.63 587.40,481.20 C588.75,480.77 590.85,480.95 592.90,480.90 C594.95,480.85 598.20,481.40 599.70,480.90 C601.20,480.40 601.15,480.40 601.90,477.90 C602.65,475.40 603.45,470.65 604.20,465.90 C604.95,461.15 605.65,454.38 606.40,449.40 C607.15,444.42 607.95,439.12 608.70,436.00 C609.45,432.88 610.17,431.75 610.90,430.70 C611.63,429.65 612.35,429.57 613.10,429.70 C613.85,429.83 614.65,429.83 615.40,431.50 C616.15,433.17 616.85,436.22 617.60,439.70 C618.35,443.18 619.15,447.78 619.90,452.40 C620.65,457.02 621.35,462.40 622.10,467.40 C622.85,472.40 623.65,477.92 624.40,482.40 C625.15,486.88 625.85,490.93 626.60,494.30 C627.35,497.67 628.02,500.85 628.90,502.60 C629.78,504.35 630.42,504.35 631.90,504.80 C633.38,505.25 635.57,505.22 637.80,505.30 C640.03,505.38 643.73,505.45 645.30,505.30 C646.87,505.15 646.52,505.38 647.20,504.40 C647.88,503.42 648.73,501.32 649.40,499.40 C650.07,497.48 650.67,495.18 651.20,492.90 C651.73,490.62 652.13,488.45 652.60,485.70 C653.07,482.95 653.52,479.38 654.00,476.40 C654.48,473.42 655.08,470.37 655.50,467.80 C655.92,465.23 656.13,463.70 656.50,461.00 C656.87,458.30 657.25,454.22 657.70,451.60 C658.15,448.98 658.73,446.90 659.20,445.30 C659.67,443.70 660.02,442.83 660.50,442.00 C660.98,441.17 661.55,440.33 662.10,440.30 C662.65,440.27 663.25,440.65 663.80,441.80 C664.35,442.95 664.82,445.17 665.40,447.20 C665.98,449.23 666.78,451.70 667.30,454.00 C667.82,456.30 668.08,458.47 668.50,461.00 C668.92,463.53 669.35,466.28 669.80,469.20 C670.25,472.12 670.73,475.50 671.20,478.50 C671.67,481.50 672.07,484.43 672.60,487.20 C673.13,489.97 673.80,492.83 674.40,495.10 C675.00,497.37 675.53,499.25 676.20,500.80 C676.87,502.35 677.68,503.63 678.40,504.40 C679.12,505.17 679.42,505.20 680.50,505.40 C681.58,505.60 683.17,505.52 684.90,505.60 C686.63,505.68 689.62,506.00 690.90,505.90 C692.18,505.80 692.03,505.33 692.60,505.00 C693.17,504.67 693.63,505.02 694.30,503.90 C694.97,502.78 695.93,501.13 696.60,498.30 C697.27,495.47 697.73,491.08 698.30,486.90 C698.87,482.72 699.43,477.75 700.00,473.20 C700.57,468.65 701.13,463.77 701.70,459.60 C702.27,455.43 702.83,451.43 703.40,448.20 C703.97,444.97 704.53,442.18 705.10,440.20 C705.67,438.22 706.23,437.15 706.80,436.30 C707.37,435.45 707.93,435.02 708.50,435.10 C709.07,435.18 709.63,435.60 710.20,436.80 C710.77,438.00 711.40,440.10 711.90,442.30 C712.40,444.50 712.78,447.12 713.20,450.00 C713.62,452.88 714.00,456.20 714.40,459.60 C714.80,463.00 715.20,467.00 715.60,470.40 C716.00,473.80 716.40,476.80 716.80,480.00 C717.20,483.20 717.60,486.60 718.00,489.60 C718.40,492.60 718.70,496.00 719.20,498.00 C719.70,500.00 720.40,501.80 721.00,501.60 C721.60,501.40 722.30,499.20 722.80,496.80 C723.30,494.40 723.60,491.00 724.00,487.20 C724.40,483.40 724.80,478.20 725.20,474.00 C725.60,469.80 726.00,465.80 726.40,462.00 C726.80,458.20 727.10,454.80 727.60,451.20 C728.10,447.60 728.80,443.10 729.40,440.40 C730.00,437.70 730.60,436.30 731.20,435.00 C731.80,433.70 732.40,433.10 733.00,432.60 C733.60,432.10 734.20,431.88 734.80,432.00 C735.40,432.12 735.80,432.97 736.60,433.30 C737.40,433.63 738.23,433.90 739.60,434.00 C740.97,434.10 742.32,433.97 744.80,433.90 C747.28,433.83 752.88,433.65 754.50,433.60" fill="none" stroke="#3f8fb4" stroke-width="1.85" stroke-linejoin="round" stroke-linecap="square"/><g stroke="#d62d42" stroke-width="1.4" stroke-dasharray="4.83 2.09" fill="none"><line x1="489.6" y1="548.89" x2="489.6" y2="410.86"/><line x1="527.8" y1="548.89" x2="527.8" y2="410.86"/><line x1="539.1" y1="548.89" x2="539.1" y2="410.86"/><line x1="587.2" y1="548.89" x2="587.2" y2="410.86"/><line x1="599.9" y1="548.89" x2="599.9" y2="410.86"/><line x1="629.9" y1="548.89" x2="629.9" y2="410.86"/><line x1="646.2" y1="548.89" x2="646.2" y2="410.86"/><line x1="680.1" y1="548.89" x2="680.1" y2="410.86"/><line x1="692.8" y1="548.89" x2="692.8" y2="410.86"/><line x1="735.8" y1="548.89" x2="735.8" y2="410.86"/></g><rect x="457.9" y="364.6" width="310.55" height="230.8" fill="none" stroke="#4c4c4c" stroke-width="1.15"/><path d="M454.85,595.4H457.9M454.85,549.24H457.9M454.85,503.08H457.9M454.85,456.92H457.9M454.85,410.76H457.9M454.85,364.6H457.9M472.4,595.4V598.45M513.04,595.4V598.45M553.69,595.4V598.45M594.33,595.4V598.45M634.98,595.4V598.45M675.62,595.4V598.45M716.27,595.4V598.45M756.91,595.4V598.45" stroke="#4c4c4c" stroke-width="1.1" fill="none"/><g class="t" font-size="9.4"><text x="451.2" y="598.5" text-anchor="end" textLength="12.96" lengthAdjust="spacingAndGlyphs">0.0</text><text x="451.2" y="552.34" text-anchor="end" textLength="12.96" lengthAdjust="spacingAndGlyphs">0.2</text><text x="451.2" y="506.18" text-anchor="end" textLength="12.96" lengthAdjust="spacingAndGlyphs">0.4</text><text x="451.2" y="460.02" text-anchor="end" textLength="12.96" lengthAdjust="spacingAndGlyphs">0.6</text><text x="451.2" y="413.86" text-anchor="end" textLength="12.96" lengthAdjust="spacingAndGlyphs">0.8</text><text x="451.2" y="367.7" text-anchor="end" textLength="12.96" lengthAdjust="spacingAndGlyphs">1.0</text><text x="472.4" y="608.7" text-anchor="middle" textLength="5.19" lengthAdjust="spacingAndGlyphs">0</text><text x="513.04" y="608.7" text-anchor="middle" textLength="10.37" lengthAdjust="spacingAndGlyphs">50</text><text x="553.69" y="608.7" text-anchor="middle" textLength="15.56" lengthAdjust="spacingAndGlyphs">100</text><text x="594.33" y="608.7" text-anchor="middle" textLength="15.56" lengthAdjust="spacingAndGlyphs">150</text><text x="634.98" y="608.7" text-anchor="middle" textLength="15.56" lengthAdjust="spacingAndGlyphs">200</text><text x="675.62" y="608.7" text-anchor="middle" textLength="15.56" lengthAdjust="spacingAndGlyphs">250</text><text x="716.27" y="608.7" text-anchor="middle" textLength="15.56" lengthAdjust="spacingAndGlyphs">300</text><text x="756.91" y="608.7" text-anchor="middle" textLength="15.56" lengthAdjust="spacingAndGlyphs">350</text></g><text class="t" x="613.05" y="359" font-size="11.0" text-anchor="middle" textLength="227.84" lengthAdjust="spacingAndGlyphs">The segmentation result of the word &quot;hello&quot;</text><text class="s" x="608.4" y="657.6" font-size="20.5" text-anchor="middle" textLength="25.6" lengthAdjust="spacingAndGlyphs">(<tspan font-weight="bold">d</tspan>)</text></svg></body></html>
